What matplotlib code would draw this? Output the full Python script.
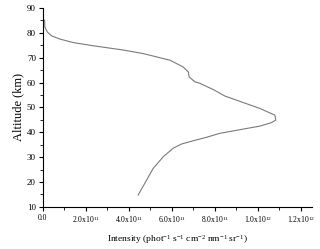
import numpy as np
import matplotlib.pyplot as plt
from matplotlib.ticker import MultipleLocator, FuncFormatter

plt.rcParams['font.family'] = 'Liberation Serif'
plt.rcParams['mathtext.fontset'] = 'custom'
plt.rcParams['mathtext.rm'] = 'Liberation Serif'
plt.rcParams['mathtext.it'] = 'Liberation Serif:italic'

# intensity in units of 1e11, altitude in km
intensity = [0.08, 0.09, 0.2, 0.4, 0.79, 1.41, 2.34, 3.73, 4.70, 5.30, 5.91, 6.52,
             6.76, 6.80, 7.07, 7.30, 7.92, 8.46, 10.09, 10.79, 10.83, 10.63, 10.09,
             8.23, 7.61, 6.99, 6.45, 6.06, 5.60, 5.13, 4.74, 4.43]
altitude = [85.1, 82.4, 80.4, 78.8, 77.5, 76.1, 74.8, 73.1, 71.6, 70.3, 69.0, 66.3,
            64.3, 62.3, 60.3, 59.7, 57.2, 54.6, 49.6, 46.9, 44.9, 43.9, 42.5,
            39.6, 38.0, 36.6, 35.3, 33.6, 30.2, 25.5, 19.5, 14.8]

x = np.array(intensity) * 1e11
y = np.array(altitude)

fig = plt.figure(figsize=(3.2, 2.49), dpi=100)
ax = fig.add_axes([0.134, 0.169, 0.84, 0.799])
ax.plot(x, y, color='#7a7a7a', lw=0.8)

ax.set_xlim(0, 1.25e12)
ax.set_ylim(10, 90)
ax.spines['top'].set_visible(False)
ax.spines['right'].set_visible(False)

ax.xaxis.set_major_locator(MultipleLocator(2e11))
ax.xaxis.set_minor_locator(MultipleLocator(1e11))
ax.yaxis.set_major_locator(MultipleLocator(10))
ax.yaxis.set_minor_locator(MultipleLocator(5))


def fmt(v, pos):
    if v < 0:
        return ''
    if v < 1:
        return '0.0'
    e = int(np.floor(np.log10(v) + 1e-9))
    m = v / 10**e
    return r'%.1fx10$^{%d}$' % (m, e)


ax.xaxis.set_major_formatter(FuncFormatter(fmt))
ax.tick_params(which='major', length=3, width=0.8, pad=2)
ax.tick_params(which='minor', length=2, width=0.6)
ax.tick_params(axis='x', labelsize=5.5)
ax.tick_params(axis='y', labelsize=6.5)

ax.set_ylabel('Altitude (km)', fontsize=9, labelpad=2)
ax.set_xlabel(r'Intensity (phot$^{-1}$ s$^{-1}$ cm$^{-2}$ nm$^{-1}$ sr$^{-1}$)', fontsize=6.8, labelpad=6)

fig.savefig('out.png', dpi=100)
